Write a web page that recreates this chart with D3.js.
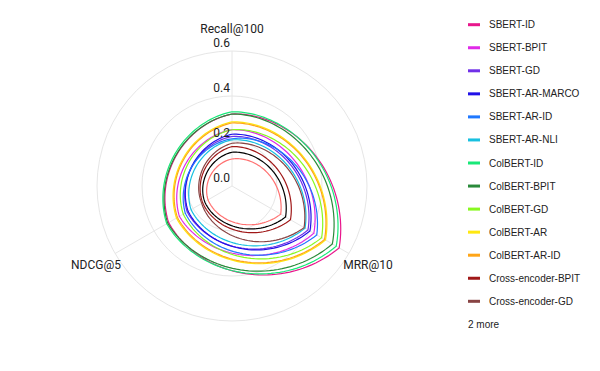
<!DOCTYPE html>
<html>
<head>
<meta charset="utf-8">
<script src="https://cdn.jsdelivr.net/npm/d3@7"></script>
<style>
  body { margin: 0; background: #fff; }
  svg { display: block; }
  .axis-label { font-family: Roboto, sans-serif; font-size: 12px; fill: #222; }
  .tick-label { font-family: Roboto, sans-serif; font-size: 12px; fill: #222; }
  .legend text { font-family: "Liberation Sans", Arial, sans-serif; font-size: 10px; fill: #222; }
</style>
</head>
<body>
<svg width="600" height="371"></svg>
<script>
// Axes (clockwise from top)
var axes = ["Recall@100", "MRR@10", "NDCG@5"];
var ticks = [0.0, 0.2, 0.4, 0.6];

// Series names, colours and values [Recall@100, MRR@10, NDCG@5]
var models = ["SBERT-ID", "SBERT-BPIT", "SBERT-GD", "SBERT-AR-MARCO", "SBERT-AR-ID", "SBERT-AR-NLI",
              "ColBERT-ID", "ColBERT-BPIT", "ColBERT-GD", "ColBERT-AR", "ColBERT-AR-ID",
              "Cross-encoder-BPIT", "Cross-encoder-GD", "Cross-encoder-AR", "Cross-encoder-ID"];
var colors = ["#e8168c", "#e02ae8", "#7030e8", "#2010e8", "#1f78ff", "#18c0e0",
              "#18e878", "#2a8a3a", "#88f820", "#ffe810", "#ffa518",
              "#a01818", "#884444", "#000000", "#ff7070"];
var recall = [0.32, 0.25, 0.22, 0.23, 0.21, 0.205, 0.33, 0.32, 0.25, 0.285, 0.28, 0.175, 0.19, 0.15, 0.12];
var mrr    = [0.55, 0.42, 0.39, 0.40, 0.435, 0.375, 0.535, 0.515, 0.46, 0.48, 0.475, 0.30, 0.37, 0.275, 0.25];
var ndcg   = [0.325, 0.27, 0.23, 0.225, 0.24, 0.21, 0.335, 0.33, 0.25, 0.285, 0.28, 0.15, 0.155, 0.14, 0.123];
var legendShown = 13;

var svg = d3.select("svg");
var cx = 232, cy = 186;

var r = d3.scaleLinear().domain([0, 0.6]).range([0, 135]);
var angle = d3.scalePoint().domain(axes).range([0, 2 * Math.PI * 2 / 3]);

var g = svg.append("g").attr("transform", `translate(${cx},${cy})`);

// grid circles
g.selectAll(".ring")
    .data(ticks.filter(d => d > 0))
    .enter().append("circle")
    .attr("r", d => r(d))
    .attr("fill", "none")
    .attr("stroke", "#e6e6e6")
    .attr("stroke-width", 1);

// spokes
g.selectAll(".spoke")
    .data(axes)
    .enter().append("line")
    .attr("x1", 0).attr("y1", 0)
    .attr("x2", d => r(0.6) * Math.sin(angle(d)))
    .attr("y2", d => -r(0.6) * Math.cos(angle(d)))
    .attr("stroke", "#e6e6e6")
    .attr("stroke-width", 1);

// each edge: mix of the polar (spiral) path and the straight chord
var line = d3.line().curve(d3.curveLinearClosed);
var mix = 0.75;

function toXY(a, v) {
    return [r(v) * Math.sin(a), -r(v) * Math.cos(a)];
}

function edgePath(vals) {
    var pts = [];
    var step = 2 * Math.PI / vals.length;
    var n = 48;
    vals.forEach((v, i) => {
        var next = vals[(i + 1) % vals.length];
        var a0 = i * step, a1 = (i + 1) * step;
        var p0 = toXY(a0, v), p1 = toXY(a1, next);
        for (var k = 0; k < n; k++) {
            var t = k / n;
            var s = toXY(a0 + t * step, v + t * (next - v));
            var c = [p0[0] + t * (p1[0] - p0[0]), p0[1] + t * (p1[1] - p0[1])];
            pts.push([mix * s[0] + (1 - mix) * c[0], mix * s[1] + (1 - mix) * c[1]]);
        }
    });
    return line(pts);
}

var series = models.map((m, i) => ({name: m, color: colors[i], values: [recall[i], mrr[i], ndcg[i]]}));

g.selectAll(".series")
    .data(series)
    .enter().append("path")
    .attr("d", d => edgePath(d.values))
    .attr("fill", "none")
    .attr("stroke", d => d.color)
    .attr("stroke-width", 1.2);

// tick labels
g.selectAll(".tick-label")
    .data(ticks)
    .enter().append("text")
    .attr("class", "tick-label")
    .attr("x", -2)
    .attr("y", d => -r(d) - 4)
    .attr("text-anchor", "end")
    .text(d => d3.format(".1f")(d));

// axis labels
g.selectAll(".axis-label")
    .data(axes)
    .enter().append("text")
    .attr("class", "axis-label")
    .attr("x", d => 157 * Math.sin(angle(d)))
    .attr("y", d => -157 * Math.cos(angle(d)))
    .attr("text-anchor", "middle")
    .attr("dominant-baseline", "central")
    .text(d => d);

// legend
var legend = svg.append("g").attr("class", "legend").attr("transform", "translate(468,24.7)");
var item = legend.selectAll(".item")
    .data(series.slice(0, legendShown))
    .enter().append("g")
    .attr("transform", (d, i) => `translate(0,${i * 23.05})`);
item.append("rect")
    .attr("x", 0).attr("y", -1.5)
    .attr("width", 12).attr("height", 3)
    .attr("fill", d => d.color);
item.append("text")
    .attr("x", 21)
    .attr("dy", "0.35em")
    .text(d => d.name);
legend.append("text")
    .attr("x", 0)
    .attr("y", legendShown * 23.05)
    .attr("dy", "0.35em")
    .text(`${series.length - legendShown} more`);
</script>
</body>
</html>
